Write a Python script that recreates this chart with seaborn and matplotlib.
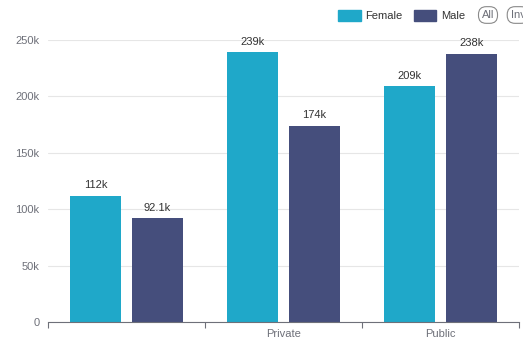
import pandas as pd
import matplotlib.pyplot as plt
import seaborn as sns

# Data
categories = ["", "Private", "Public"]
female = [112000, 239000, 209000]
male = [92100, 174000, 238000]
value_labels_female = ["112k", "239k", "209k"]
value_labels_male = ["92.1k", "174k", "238k"]
y_ticks = [0, 50000, 100000, 150000, 200000, 250000]
y_tick_labels = ["0", "50k", "100k", "150k", "200k", "250k"]

df = pd.DataFrame({
    "category": categories * 2,
    "gender": ["Female"] * 3 + ["Male"] * 3,
    "value": female + male,
})

sns.set_theme(style="white")
plt.rcParams["font.family"] = ["Liberation Sans", "DejaVu Sans"]

fig = plt.figure(figsize=(5.23, 3.39), dpi=100)
ax = fig.add_axes([48 / 523, 17 / 339, 471 / 523, 282 / 339])

palette = {"Female": "#1fa8c9", "Male": "#454e7c"}
sns.barplot(data=df, x="category", y="value", hue="gender", order=categories,
            hue_order=["Female", "Male"], palette=palette, width=0.79, gap=0.18,
            saturation=1, linewidth=0, ax=ax, legend=False)

# value labels above the bars
for container, labels in zip(ax.containers, [value_labels_female, value_labels_male]):
    ax.bar_label(container, labels=labels, padding=4, fontsize=8, color="#333333")

ax.set_ylim(0, 250000)
ax.set_xlim(-0.5, 2.5)
ax.set_yticks(y_ticks)
ax.set_yticklabels(y_tick_labels)
ax.set_xlabel("")
ax.set_ylabel("")
ax.grid(axis="y", color="#e6e6e6", linewidth=0.8)
ax.set_axisbelow(True)
for side in ["top", "right", "left"]:
    ax.spines[side].set_visible(False)
ax.spines["bottom"].set_color("#6e7079")
ax.spines["bottom"].set_linewidth(0.8)

# x ticks at category boundaries, labels centred on categories
ax.set_xticks([-0.5, 0.5, 1.5, 2.5])
ax.set_xticklabels([])
ax.set_xticks([0, 1, 2], minor=True)
ax.set_xticklabels(categories, minor=True)
ax.tick_params(axis="x", which="major", bottom=True, length=4, color="#6e7079", width=0.8)
ax.tick_params(axis="x", which="minor", bottom=False, length=0, labelsize=8,
               labelcolor="#6e7079", pad=5)
ax.tick_params(axis="y", left=False, length=0, labelsize=8, labelcolor="#6e7079", pad=6)

# legend at the top right
handles = [plt.Rectangle((0, 0), 1, 1, color=palette["Female"]),
           plt.Rectangle((0, 0), 1, 1, color=palette["Male"])]
fig.legend(handles, ["Female", "Male"], loc="upper left", bbox_to_anchor=(328 / 523, 1.0),
           ncol=2, frameon=False, fontsize=8, handlelength=2.05, handleheight=1.1,
           handletextpad=0.4, columnspacing=1.0, labelcolor="#333333")
fig.text(488 / 523, 324 / 339, "All", fontsize=8, color="#6e7079", ha="center", va="center",
         bbox=dict(boxstyle="round,pad=0.3,rounding_size=0.7", fc="white", ec="#8a8a8a", lw=0.8))
fig.text(518 / 523, 324 / 339, "Inv", fontsize=8, color="#6e7079", ha="center", va="center",
         bbox=dict(boxstyle="round,pad=0.3,rounding_size=0.7", fc="white", ec="#8a8a8a", lw=0.8))

fig.savefig("out.png", dpi=100)
